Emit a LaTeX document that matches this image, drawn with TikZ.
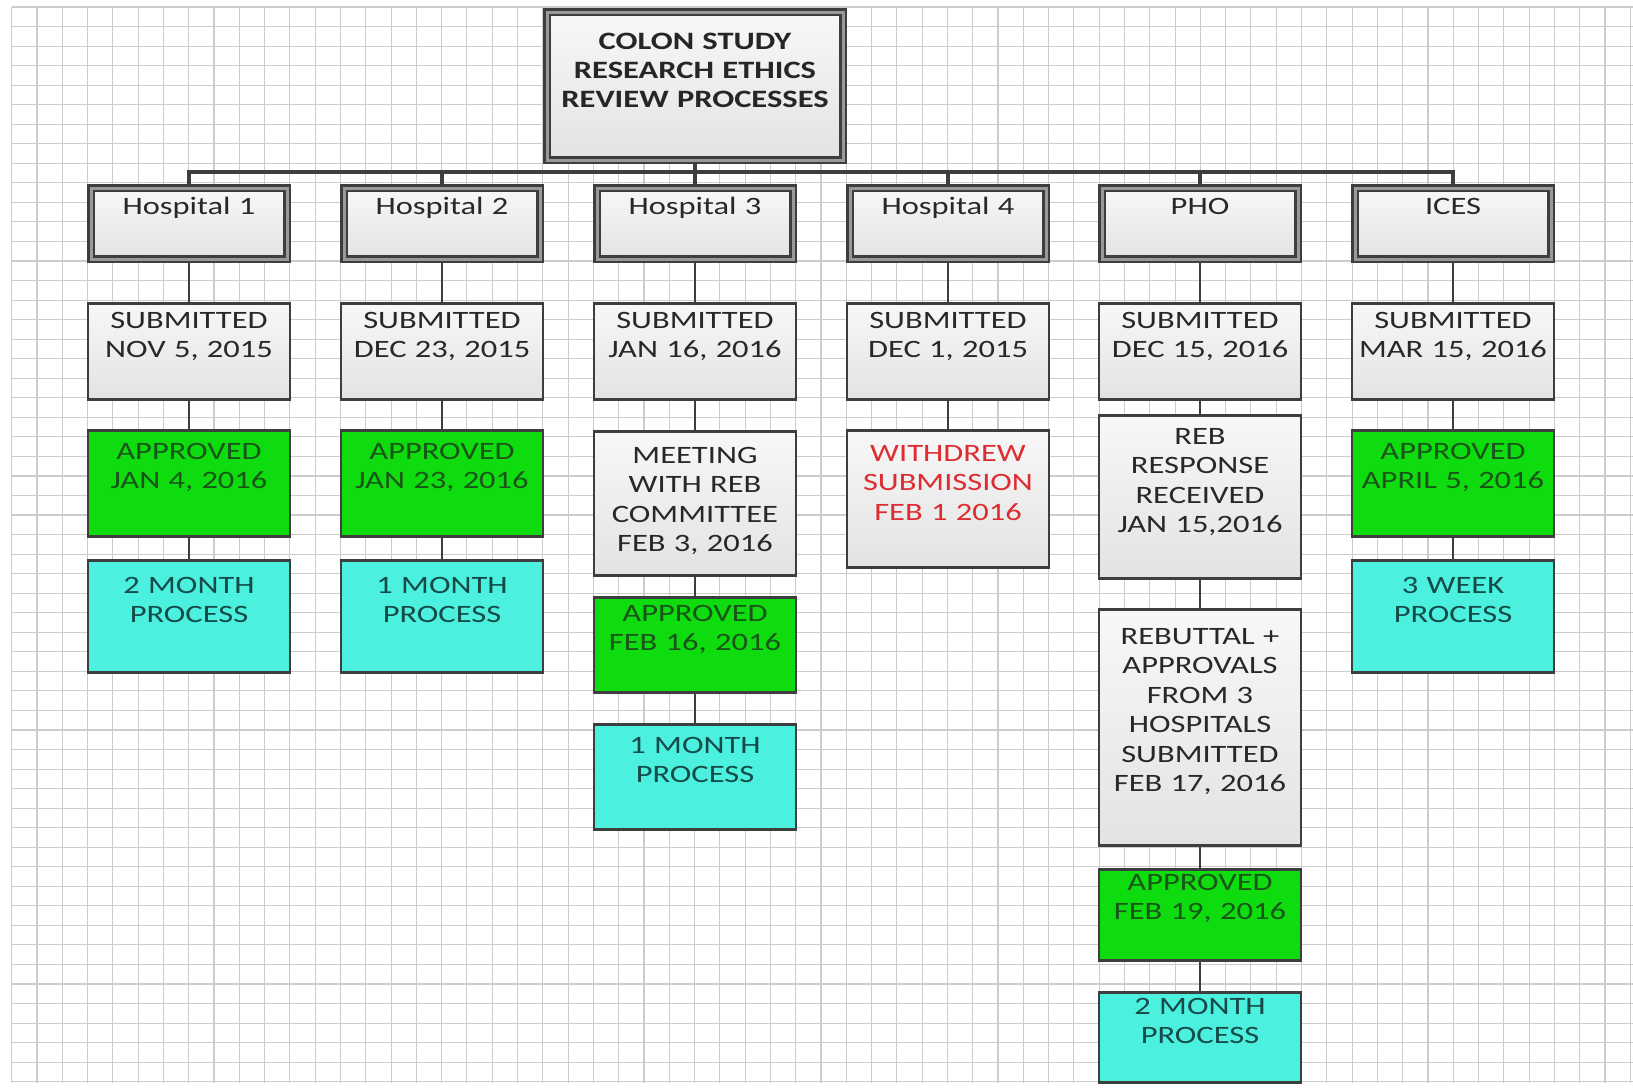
\documentclass[tikz,border=0pt]{standalone}
\usepackage{fontspec}
\setmainfont{Carlito}[FakeStretch=1.3]

\definecolor{boxline}{RGB}{62,62,62}
\definecolor{boxtext}{RGB}{40,40,40}
\definecolor{gridgray}{RGB}{204,204,204}
\definecolor{okgreen}{RGB}{14,220,14}
\definecolor{okgreentext}{RGB}{25,85,25}
\definecolor{proccyan}{RGB}{75,240,222}
\definecolor{proctext}{RGB}{20,75,72}
\definecolor{wdred}{RGB}{222,45,50}

\begin{document}
\begin{tikzpicture}[x=1pt,y=-1pt,
    every node/.style={font=\fontsize{25}{29.5}\selectfont},
    gridline/.style={draw=gridgray, line width=1.1pt},
    box/.style={draw=boxline, line width=2.5pt, anchor=north,
      text width=198pt, align=center, inner xsep=2pt, inner ysep=0pt,
      text=boxtext},
    graybox/.style={box, top color=black!3, bottom color=black!11},
    headbox/.style={graybox, double=black!40, double distance=3pt,
      text width=192pt},
    okbox/.style={box, fill=okgreen, text=okgreentext},
    procbox/.style={box, fill=proccyan, text=proctext},
    trunk/.style={draw=boxline, line width=3.5pt},
    link/.style={draw=boxline, line width=2.5pt}]

    \useasboundingbox [fill=white] (0,0) rectangle (1633,1087);

    % grid paper
    \foreach \i in {0,...,64}
      \draw [gridline] (11.7+25.29*\i, 7) -- (11.7+25.29*\i, 1083);
    \foreach \j in {0,...,55}
      \draw [gridline] (11.7, 7+19.54*\j) -- (1633, 7+19.54*\j);

    \node [headbox, text width=292pt, text height=37pt, text depth=111pt,
      text=black!85, font=\fontsize{25}{29}\selectfont\bfseries]
      (t) at (695,11) {COLON STUDY\\RESEARCH ETHICS\\REVIEW PROCESSES};

    \node [headbox, text height=26pt, text depth=45pt] (h1) at (189,187) {Hospital 1};
    \node [headbox, text height=26pt, text depth=45pt] (h2) at (442,187) {Hospital 2};
    \node [headbox, text height=26pt, text depth=45pt] (h3) at (695,187) {Hospital 3};
    \node [headbox, text height=26pt, text depth=45pt] (h4) at (948,187) {Hospital 4};
    \node [headbox, text height=26pt, text depth=45pt] (h5) at (1200,187) {PHO};
    \node [headbox, text height=26pt, text depth=45pt] (h6) at (1453,187) {ICES};

    \node [graybox, text height=25pt, text depth=71pt] (s1) at (189,302) {SUBMITTED\\NOV 5, 2015};
    \node [graybox, text height=25pt, text depth=71pt] (s2) at (442,302) {SUBMITTED\\DEC 23, 2015};
    \node [graybox, text height=25pt, text depth=71pt] (s3) at (695,302) {SUBMITTED\\JAN 16, 2016};
    \node [graybox, text height=25pt, text depth=71pt] (s4) at (948,302) {SUBMITTED\\DEC 1, 2015};
    \node [graybox, text height=25pt, text depth=71pt] (s5) at (1200,302) {SUBMITTED\\DEC 15, 2016};
    \node [graybox, text height=25pt, text depth=71pt] (s6) at (1453,302) {SUBMITTED\\MAR 15, 2016};

    % hospital 1, hospital 2, ICES
    \node [okbox, text height=29pt, text depth=77pt] (a1) at (189,429) {APPROVED\\JAN 4, 2016};
    \node [procbox, text height=33pt, text depth=79pt] (p1) at (189,559) {2 MONTH\\PROCESS};
    \node [okbox, text height=29pt, text depth=77pt] (a2) at (442,429) {APPROVED\\JAN 23, 2016};
    \node [procbox, text height=33pt, text depth=79pt] (p2) at (442,559) {1 MONTH\\PROCESS};
    \node [okbox, text height=29pt, text depth=77pt] (a6) at (1453,429) {APPROVED\\APRIL 5, 2016};
    \node [procbox, text height=33pt, text depth=79pt] (p6) at (1453,559) {3 WEEK\\PROCESS};

    % hospital 3
    \node [graybox, text height=32pt, text depth=112pt] (m3) at (695,430)
      {MEETING\\WITH REB\\COMMITTEE\\FEB 3, 2016};
    \node [okbox, text height=24pt, text depth=71pt] (a3) at (695,596) {APPROVED\\FEB 16, 2016};
    \node [procbox, text height=29pt, text depth=76pt] (p3) at (695,723) {1 MONTH\\PROCESS};

    % hospital 4
    \node [graybox, text height=31pt, text depth=106pt, text=wdred] (w4) at (948,429)
      {WITHDREW\\SUBMISSION\\FEB 1 2016};

    % PHO
    \node [graybox, text height=29pt, text depth=134pt] (r5) at (1200,414)
      {REB\\RESPONSE\\RECEIVED\\JAN 15,2016};
    \node [graybox, text height=35pt, text depth=201pt] (b5) at (1200,608)
      {REBUTTAL +\\APPROVALS\\FROM 3\\HOSPITALS\\SUBMITTED\\FEB 17, 2016};
    \node [okbox, text height=21pt, text depth=70pt] (a5) at (1200,868) {APPROVED\\FEB 19, 2016};
    \node [procbox, text height=22pt, text depth=68pt] (p5) at (1200,991) {2 MONTH\\PROCESS};

    % org chart trunk
    \coordinate (bus) at (695,172);
    \draw [trunk] (t.south) -- (bus);
    \draw [trunk] (h1.north) |- (bus) -| (h6.north);
    \foreach \k in {2,...,5}
      \draw [trunk] (h\k.north) -- (h\k.north |- bus);

    \foreach \a/\b in {h1/s1, s1/a1, a1/p1, h2/s2, s2/a2, a2/p2,
        h3/s3, s3/m3, m3/a3, a3/p3, h4/s4, s4/w4,
        h5/s5, s5/r5, r5/b5, b5/a5, a5/p5, h6/s6, s6/a6, a6/p6}
      \draw [link] (\a.south) -- (\b.north);
\end{tikzpicture}
\end{document}
